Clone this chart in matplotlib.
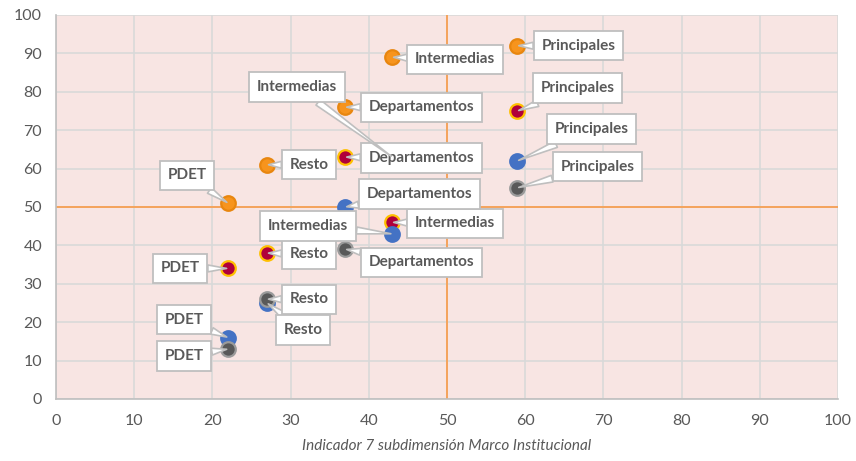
import matplotlib
matplotlib.use('Agg')
import matplotlib.pyplot as plt

plt.rcParams['font.family'] = ['Lato', 'DejaVu Sans']

# orange series
nar_x = [59, 43, 37, 27, 22]
nar_y = [92, 89, 76, 61, 51]
nar_lab = ['Principales', 'Intermedias', 'Departamentos', 'Resto', 'PDET']
nar_off = [(61, 0), (63, -2), (76, 0), (42, 0), (-41, 28)]

# crimson series
roj_x = [59, 37, 43, 27, 22]
roj_y = [75, 63, 46, 38, 34]
roj_lab = ['Principales', 'Departamentos', 'Intermedias', 'Resto', 'PDET']
roj_off = [(60, 23), (76, -1), (63, -1), (42, -1), (-48, 0)]

# blue series
azu_x = [59, 37, 43, 27, 22]
azu_y = [62, 50, 43, 25, 16]
azu_lab = ['Principales', 'Departamentos', 'Intermedias', 'Resto', 'PDET']
azu_off = [(74, 32), (74, 13), (-84, 8), (36, -27), (-44, 18)]

# gray series
gri_x = [59, 43, 37, 27, 22]
gri_y = [55, 63, 39, 26, 13]
gri_lab = ['Principales', 'Intermedias', 'Departamentos', 'Resto', 'PDET']
gri_off = [(80, 21), (-95, 70), (76, -13), (42, 0), (-44, -7)]

series = [
    (nar_x, nar_y, nar_lab, nar_off, '#F7941D', '#E8860F'),
    (roj_x, roj_y, roj_lab, roj_off, '#B0003A', '#FFC000'),
    (azu_x, azu_y, azu_lab, azu_off, '#4472C4', '#4472C4'),
    (gri_x, gri_y, gri_lab, gri_off, '#595959', '#9A9A9A'),
]

fig = plt.figure(figsize=(8.56, 4.61), dpi=100)
ax = fig.add_axes([0.0654, 0.1345, 0.9136, 0.833])
ax.set_facecolor('#F8E5E3')

ax.set_xlim(0, 100)
ax.set_ylim(0, 100)
ax.set_xticks(range(0, 101, 10))
ax.set_yticks(range(0, 101, 10))
ax.grid(True, color='#D9D9D9', lw=1.2)
ax.set_axisbelow(True)
ax.tick_params(length=0, labelsize=11.5, colors='#595959')
ax.tick_params(axis='x', pad=11)
ax.tick_params(axis='y', pad=10)
for s in ['top', 'right']:
    ax.spines[s].set_visible(False)
for s in ['left', 'bottom']:
    ax.spines[s].set_color('#BFBFBF')
    ax.spines[s].set_linewidth(1.2)

ax.axvline(50, color='#F5A35C', lw=1.4, zorder=1.5)
ax.axhline(50, color='#F5A35C', lw=1.4, zorder=1.5)

for xs, ys, labs, offs, fc, ec in series:
    ax.scatter(xs, ys, s=110, c=fc, edgecolors=ec, linewidths=1.6, zorder=2)

for xs, ys, labs, offs, fc, ec in series:
    for x, y, lab, off in zip(xs, ys, labs, offs):
        ax.annotate(lab, (x, y), xytext=off, textcoords='offset pixels',
                    ha='center', va='center', fontsize=11, fontweight='bold',
                    color='#595959', zorder=4,
                    bbox=dict(boxstyle='square,pad=0.5', fc='white', ec='#BFBFBF', lw=1.3),
                    arrowprops=dict(arrowstyle='wedge,tail_width=0.45,shrink_factor=0.5',
                                    fc='white', ec='#BFBFBF', lw=1.2,
                                    shrinkA=0, shrinkB=1))

ax.set_xlabel('Indicador 7 subdimensión Marco Institucional', fontsize=11,
              style='italic', color='#595959', labelpad=8)

fig.savefig('out.png', dpi=100)
